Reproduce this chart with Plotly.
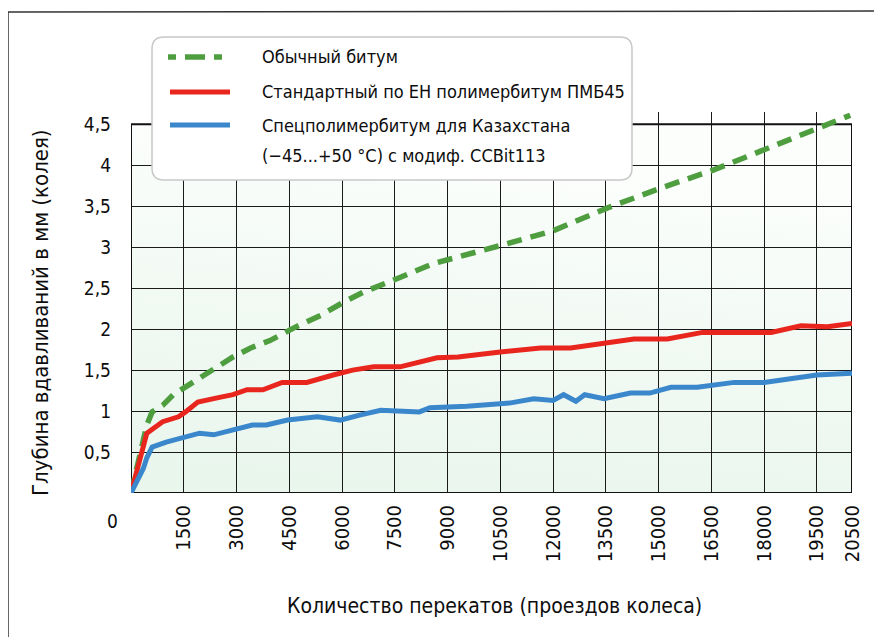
import base64
import plotly.graph_objects as go

# ---------------- data ----------------
green_name = "Обычный битум"
green_x = [0, 150, 350, 450, 600, 900, 1200, 1700, 2200, 2900, 3400, 3950, 4700, 5400,
           6050, 6600, 7300, 7950, 8600, 10500, 12000, 13550, 15050, 16550, 18100, 19550, 20450]
green_y = [0, 0.28, 0.68, 0.83, 0.99, 1.07, 1.2, 1.34, 1.48, 1.66, 1.77, 1.86, 2.03, 2.17,
           2.33, 2.45, 2.57, 2.68, 2.8, 3.02, 3.2, 3.48, 3.72, 3.94, 4.2, 4.45, 4.61]

red_name = "Стандартный по ЕН полимербитум ПМБ45"
red_x = [0, 250, 450, 900, 1350, 1550, 1900, 2550, 2900, 3300, 3750, 4300, 5000, 5750,
         6300, 6900, 7650, 8700, 9300, 10500, 11650, 12500, 13550, 14300, 15250, 16250,
         18200, 19050, 19800, 20500]
red_y = [0, 0.44, 0.73, 0.87, 0.93, 0.99, 1.11, 1.17, 1.2, 1.26, 1.26, 1.35, 1.35, 1.44,
         1.5, 1.54, 1.54, 1.65, 1.66, 1.72, 1.77, 1.77, 1.84, 1.88, 1.88, 1.96,
         1.96, 2.04, 2.03, 2.07]

blue_name_1 = "Спецполимербитум для Казахстана"
blue_name_2 = "(−45...+50 °C) с модиф. CCBit113"
blue_x = [0, 350, 450, 600, 1000, 1400, 1950, 2350, 2900, 3450, 3850, 4450, 5300, 5950,
          6500, 7100, 8200, 8500, 9550, 10800, 11450, 12000, 12300, 12650, 12900, 13450,
          14200, 14750, 15350, 16100, 17150, 18000, 19500, 20500]
blue_y = [0, 0.3, 0.43, 0.56, 0.62, 0.67, 0.73, 0.71, 0.77, 0.83, 0.83, 0.89, 0.93, 0.89,
          0.95, 1.01, 0.99, 1.04, 1.06, 1.1, 1.15, 1.13, 1.2, 1.12, 1.2, 1.15,
          1.22, 1.22, 1.29, 1.29, 1.35, 1.35, 1.44, 1.46]

x_ticks = [1500, 3000, 4500, 6000, 7500, 9000, 10500, 12000, 13500, 15000, 16500, 18000, 19500, 20500]
x_tick_labels = [str(v) for v in x_ticks]
y_ticks = [0.5, 1, 1.5, 2, 2.5, 3, 3.5, 4, 4.5]
y_tick_labels = ["0,5", "1", "1,5", "2", "2,5", "3", "3,5", "4", "4,5"]

x_title = "Количество перекатов (проездов колеса)"
y_title = "Глубина вдавливаний в мм (колея)"

X_MAX = 20500
Y_TOP = 4.5
Y_RANGE_TOP = 4.65

# ---------------- style ----------------
FONT = "'DejaVu Sans Condensed', 'Liberation Sans Narrow', Roboto, sans-serif"
TXT = "#0d0d0d"
GREEN = "#4e9e40"
RED = "#e8261e"
BLUE = "#3a87cc"

OFF = 8  # page body margin of the browser
W, H = 882 - OFF, 637 - OFF
ML, MR, MT, MB = 131 - OFF, 30, 112 - OFF, 144
PW, PH = W - ML - MR, H - MT - MB


def px(x):  # screenshot x -> paper
    return (x - OFF - ML) / PW


def py(y):  # screenshot y -> paper
    return (H - MB - (y - OFF)) / PH


fig = go.Figure()
fig.add_trace(go.Scatter(x=green_x, y=green_y, mode="lines", name=green_name,
                         line=dict(color=GREEN, width=5.5, dash="15px,9px"), showlegend=False))
fig.add_trace(go.Scatter(x=red_x, y=red_y, mode="lines", name=red_name,
                         line=dict(color=RED, width=5), showlegend=False))
fig.add_trace(go.Scatter(x=blue_x, y=blue_y, mode="lines", name=blue_name_1 + " " + blue_name_2,
                         line=dict(color=BLUE, width=5), showlegend=False))

# gradient background of the plotting box
svg = ('<svg xmlns="http://www.w3.org/2000/svg" width="100" height="100" preserveAspectRatio="none">'
       '<defs><linearGradient id="g" x1="0.2" y1="0" x2="0" y2="1">'
       '<stop offset="0" stop-color="#fcfefc"/><stop offset="0.5" stop-color="#f1f9f3"/>'
       '<stop offset="1" stop-color="#e8f6ec"/></linearGradient></defs>'
       '<rect width="100" height="100" fill="url(#g)"/></svg>')
img_src = "data:image/svg+xml;base64," + base64.b64encode(svg.encode()).decode()
fig.add_layout_image(dict(source=img_src, xref="x", yref="y", x=0, y=Y_TOP, sizex=X_MAX, sizey=Y_TOP,
                          sizing="stretch", layer="below", xanchor="left", yanchor="top"))

shapes = []
# plot box border
shapes.append(dict(type="rect", xref="x", yref="y", x0=0, y0=0, x1=X_MAX, y1=Y_TOP,
                   line=dict(color="#111", width=2), fillcolor="rgba(0,0,0,0)", layer="between"))
# page frame (left and top lines)
shapes.append(dict(type="line", xref="paper", yref="paper", x0=px(8), y0=py(12), x1=px(882), y1=py(11),
                   line=dict(color="#333", width=1.5)))
shapes.append(dict(type="line", xref="paper", yref="paper", x0=px(8), y0=py(12), x1=px(8), y1=py(637),
                   line=dict(color="#333", width=1.5)))

# legend box (rounded)
bx0, bx1, by0, by1, r = 152, 632, 37, 180, 12
path = (f"M {px(bx0 + r)},{py(by0)} L {px(bx1 - r)},{py(by0)} Q {px(bx1)},{py(by0)} {px(bx1)},{py(by0 + r)} "
        f"L {px(bx1)},{py(by1 - r)} Q {px(bx1)},{py(by1)} {px(bx1 - r)},{py(by1)} "
        f"L {px(bx0 + r)},{py(by1)} Q {px(bx0)},{py(by1)} {px(bx0)},{py(by1 - r)} "
        f"L {px(bx0)},{py(by0 + r)} Q {px(bx0)},{py(by0)} {px(bx0 + r)},{py(by0)} Z")
shapes.append(dict(type="path", xref="paper", yref="paper", path=path, fillcolor="white",
                   line=dict(color="#c8c8c8", width=1.5), layer="above"))
# legend samples
shapes.append(dict(type="line", xref="paper", yref="paper", x0=px(168), x1=px(230), y0=py(57), y1=py(57),
                   line=dict(color=GREEN, width=5.5, dash="8px,9px,20px,9px,8px,20px"), layer="above"))
shapes.append(dict(type="line", xref="paper", yref="paper", x0=px(170), x1=px(230), y0=py(92), y1=py(92),
                   line=dict(color=RED, width=5), layer="above"))
shapes.append(dict(type="line", xref="paper", yref="paper", x0=px(170), x1=px(230), y0=py(125), y1=py(125),
                   line=dict(color=BLUE, width=5), layer="above"))

annotations = []
leg_font = dict(family=FONT, size=18, color=TXT)
for txt, yy in [(green_name, 57), (red_name, 92), (blue_name_1, 126), (blue_name_2, 155)]:
    annotations.append(dict(text=txt, xref="paper", yref="paper", x=px(260), y=py(yy), xanchor="left",
                            yanchor="middle", showarrow=False, font=leg_font))
# axis titles
annotations.append(dict(text=x_title, xref="paper", yref="paper", x=px(494), y=py(606), xanchor="center",
                        yanchor="middle", showarrow=False, font=dict(family=FONT, size=21, color=TXT)))
annotations.append(dict(text=y_title, xref="paper", yref="paper", x=px(40), y=py(313), xanchor="center",
                        yanchor="middle", showarrow=False, textangle=-90,
                        font=dict(family=FONT, size=22, color=TXT)))
# lone zero label
annotations.append(dict(text="0", xref="paper", yref="paper", x=px(112), y=py(521), xanchor="center",
                        yanchor="middle", showarrow=False, font=dict(family=FONT, size=19, color=TXT)))

fig.update_layout(
    width=W, height=H,
    margin=dict(l=ML, r=MR, t=MT, b=MB, pad=0),
    paper_bgcolor="white", plot_bgcolor="white",
    shapes=shapes, annotations=annotations,
    font=dict(family=FONT, color=TXT),
    xaxis=dict(range=[0, X_MAX], tickmode="array", tickvals=x_ticks, ticktext=x_tick_labels,
               tickangle=-90, tickfont=dict(family=FONT, size=20, color=TXT),
               showgrid=True, gridcolor="#1a1a1a", gridwidth=1.4, zeroline=False, showline=False,
               ticks="", ticklabelstandoff=7, fixedrange=True),
    yaxis=dict(range=[0, Y_RANGE_TOP], tickmode="array", tickvals=y_ticks, ticktext=y_tick_labels,
               tickfont=dict(family=FONT, size=19, color=TXT),
               showgrid=True, gridcolor="#1a1a1a", gridwidth=1.4, zeroline=False, showline=False,
               ticks="", ticklabelstandoff=19, fixedrange=True),
)

fig.write_html("out.html")
